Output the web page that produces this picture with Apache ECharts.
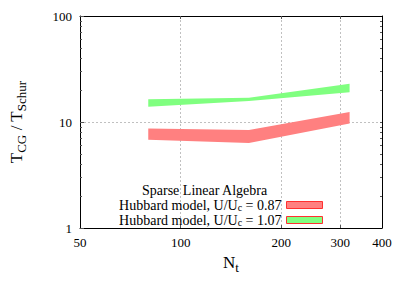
<!DOCTYPE html>
<html>
<head>
<meta charset="utf-8">
<script src="https://cdn.jsdelivr.net/npm/echarts@6/dist/echarts.min.js"></script>
<style>html,body{margin:0;padding:0;background:#fff}#c{width:407px;height:285px}</style>
</head>
<body>
<div id="c"></div>
<script>
// ---- data ----
const nt = [80, 160, 320];
const redLow = [6.8, 6.35, 9.7];
const redHigh = [8.7, 8.4, 12.4];
const greenLow = [13.9, 15.8, 19.1];
const greenHigh = [16.4, 16.9, 23.0];
const xTickLabels = [50, 100, 200, 300, 400];
const xTicks = [100, 200, 300];
const yMinorTicks = [2, 3, 4, 5, 6, 7, 8, 9, 20, 30, 40, 50, 60, 70, 80, 90];
const seriesNames = ['Hubbard model, U/U{sub|c} = 0.87', 'Hubbard model, U/U{sub|c} = 1.07'];
const legendTitle = 'Sparse Linear Algebra';

const FONT = 'Liberation Serif';
const chart = echarts.init(document.getElementById('c'), null, {renderer: 'svg'});

function bandRenderer(xs, lo, hi, color) {
  return function (params, api) {
    if (params.dataIndex !== 0) return null;
    const pts = [];
    for (let i = 0; i < xs.length; i++) pts.push(api.coord([xs[i], hi[i]]));
    for (let i = xs.length - 1; i >= 0; i--) pts.push(api.coord([xs[i], lo[i]]));
    return {type: 'polygon', shape: {points: pts}, style: {fill: color, stroke: null}};
  };
}

const subRich = {sub: {fontSize: 10, fontFamily: FONT, lineHeight: 10, padding: [5, 0, 0, 0], verticalAlign: 'bottom', color: '#000'}};
const titleRich = {sub: {fontSize: 13, fontFamily: FONT, padding: [10, 0, 0, 0], color: '#000'}};
const baseX = {type: 'log', logBase: 10, min: 50, max: 400};
const baseY = {type: 'log', logBase: 10, min: 1, max: 100};

chart.setOption({
  animation: false,
  backgroundColor: '#fff',
  grid: {left: 66, right: 25, top: 16, bottom: 57, containLabel: false},
  title: {
    text: legendTitle, left: 142, top: 184,
    textStyle: {fontFamily: FONT, fontSize: 14, lineHeight: 12, fontWeight: 'normal', color: '#000'}, padding: 0
  },
  legend: {
    right: 84, top: 197, orient: 'vertical', align: 'right', padding: 0, itemGap: 0,
    itemWidth: 36, itemHeight: 7,
    textStyle: {fontFamily: FONT, fontSize: 14, color: '#000', lineHeight: 14, rich: subRich},
    data: [
      {name: seriesNames[0], icon: 'rect', itemStyle: {color: '#ff8080', borderColor: '#ff3030', borderWidth: 1}},
      {name: seriesNames[1], icon: 'rect', itemStyle: {color: '#80ff80', borderColor: '#ff3030', borderWidth: 1}}
    ]
  },
  xAxis: [
    Object.assign({}, baseX, {
      position: 'bottom',
      name: 'N{sub|t}', nameLocation: 'middle', nameGap: 21,
      nameTextStyle: {fontFamily: FONT, fontSize: 17, color: '#000', rich: titleRich},
      axisLine: {show: true, onZero: false, lineStyle: {color: '#000', width: 1}},
      axisTick: {show: true, inside: true, length: 3, customValues: xTicks, lineStyle: {color: '#555'}},
      axisLabel: {customValues: xTickLabels, margin: 8, fontFamily: FONT, fontSize: 13, color: '#000', formatter: v => String(Math.round(v))},
      splitLine: {show: true, lineStyle: {color: '#c0c0c0', type: [2, 2], width: 1}},
      minorTick: {show: false}
    }),
    Object.assign({}, baseX, {
      position: 'top',
      axisLine: {show: true, onZero: false, lineStyle: {color: '#000', width: 1}},
      axisTick: {show: true, inside: true, length: 3, customValues: xTicks, lineStyle: {color: '#555'}},
      axisLabel: {show: false},
      splitLine: {show: false}
    })
  ],
  yAxis: [
    Object.assign({}, baseY, {
      position: 'left',
      name: 'T{sub|CG} / T{sub|Schur}', nameLocation: 'middle', nameGap: 52, nameRotate: 90,
      nameTextStyle: {fontFamily: FONT, fontSize: 17, color: '#000', rich: titleRich},
      axisLine: {show: true, onZero: false, lineStyle: {color: '#000', width: 1}},
      axisTick: {show: true, inside: true, length: 4, lineStyle: {color: '#555'}},
      axisLabel: {margin: 8, fontFamily: FONT, fontSize: 13, color: '#000', formatter: v => String(Math.round(v))},
      splitLine: {show: true, lineStyle: {color: '#c0c0c0', type: [2, 2], width: 1}}
    }),
    Object.assign({}, baseY, {
      position: 'left',
      axisLine: {show: false},
      axisTick: {show: true, inside: true, length: 2, customValues: yMinorTicks, lineStyle: {color: '#555'}},
      axisLabel: {show: false},
      splitLine: {show: false}
    }),
    Object.assign({}, baseY, {
      position: 'right',
      axisLine: {show: true, onZero: false, lineStyle: {color: '#000', width: 1}},
      axisTick: {show: true, inside: true, length: 2, customValues: yMinorTicks.concat([10]), lineStyle: {color: '#555'}},
      axisLabel: {show: false},
      splitLine: {show: false}
    })
  ],
  series: [
    {
      name: seriesNames[0], type: 'custom', xAxisIndex: 0, yAxisIndex: 0,
      itemStyle: {color: '#ff8080'},
      renderItem: bandRenderer(nt, redLow, redHigh, '#ff8080'),
      data: nt.map((x, i) => [x, redLow[i], redHigh[i]]),
      encode: {x: 0, y: [1, 2]}
    },
    {
      name: seriesNames[1], type: 'custom', xAxisIndex: 0, yAxisIndex: 0,
      itemStyle: {color: '#80ff80'},
      renderItem: bandRenderer(nt, greenLow, greenHigh, '#80ff80'),
      data: nt.map((x, i) => [x, greenLow[i], greenHigh[i]]),
      encode: {x: 0, y: [1, 2]}
    }
  ]
});
</script>
</body>
</html>
